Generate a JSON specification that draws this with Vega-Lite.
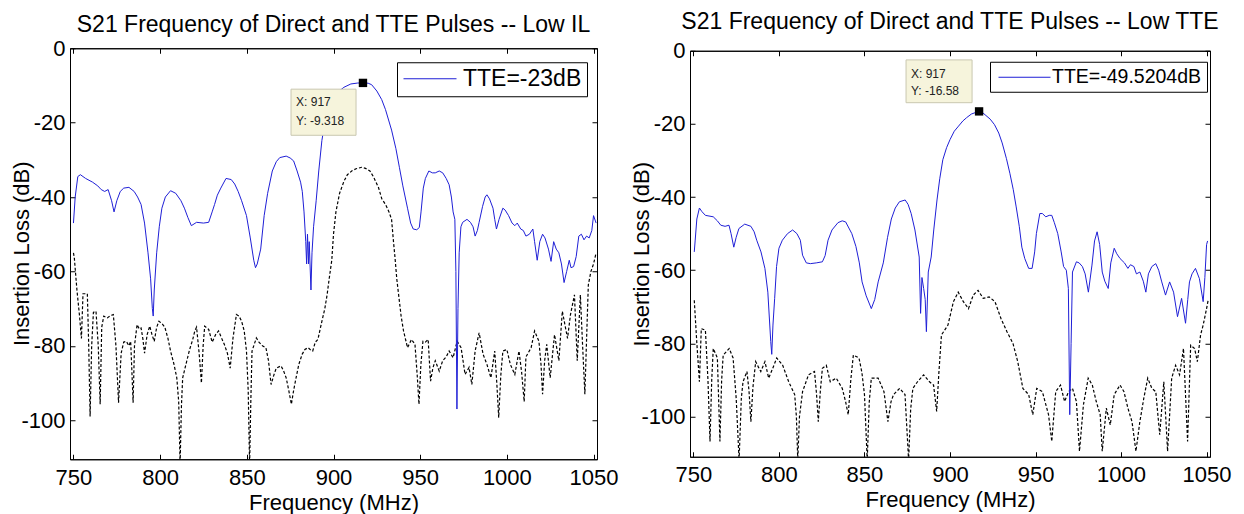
{
  "$schema": "https://vega.github.io/schema/vega-lite/v6.json",
  "padding": {"left": 9, "top": 10, "right": 0, "bottom": 0},
  "spacing": 10,
  "center": true,
  "config": {
    "font": "Liberation Sans",
    "view": {"stroke": "black", "strokeWidth": 1},
    "axis": {"grid": false, "minExtent": 0, "labelFontSize": 22, "titleFontSize": 22, "titleFontWeight": "normal", "labelColor": "black", "titleColor": "black", "domainColor": "black", "tickColor": "black", "tickSize": -5, "labelPadding": 10, "labelFlush": false, "labelOverlap": false, "labelExpr": "'' + datum.value"},
    "axisBottom": {"labelPadding": 13, "titlePadding": 4},
    "title": {"fontSize": 23, "fontWeight": "normal", "color": "black", "anchor": "middle"}
  },
  "resolve": {"scale": {"color": "independent"}, "legend": {"color": "independent"}},
  "datasets": {
    "LB": [
      {"f":750,"db":-47},{"f":751,"db":-40},{"f":752.5,"db":-34.5},{"f":754,"db":-34},{"f":757,"db":-35},{"f":761,"db":-36},{"f":764,"db":-37},{"f":766,"db":-38},{"f":768,"db":-38.5},{"f":770,"db":-38},{"f":772,"db":-41},{"f":773.4,"db":-44},{"f":775,"db":-41},{"f":777,"db":-38.5},{"f":779,"db":-37.6},{"f":782,"db":-37.4},{"f":785,"db":-38.5},{"f":787,"db":-40},{"f":789,"db":-42},{"f":791,"db":-47},{"f":793,"db":-55},{"f":794.5,"db":-62},{"f":795.5,"db":-70},{"f":796,"db":-72},{"f":796.6,"db":-65},{"f":798,"db":-55},{"f":799.5,"db":-48},{"f":801,"db":-43},{"f":803,"db":-40},{"f":806,"db":-38.3},{"f":809,"db":-39},{"f":812,"db":-41},{"f":814,"db":-43},{"f":816,"db":-45.5},{"f":818,"db":-47.7},{"f":821,"db":-46.8},{"f":825,"db":-47},{"f":828,"db":-46.8},{"f":830,"db":-44},{"f":831.4,"db":-42},{"f":833,"db":-39.5},{"f":835,"db":-37.6},{"f":838,"db":-35},{"f":841,"db":-35.3},{"f":843,"db":-36.5},{"f":845,"db":-38.5},{"f":847,"db":-41},{"f":849.8,"db":-45},{"f":852,"db":-51},{"f":854,"db":-57},{"f":855,"db":-59},{"f":856,"db":-58},{"f":858,"db":-54},{"f":860,"db":-45},{"f":862,"db":-39},{"f":864.7,"db":-33},{"f":867,"db":-30.5},{"f":869,"db":-29.4},{"f":872.7,"db":-29},{"f":875,"db":-29.5},{"f":877,"db":-30.3},{"f":879,"db":-33},{"f":881,"db":-36},{"f":882,"db":-38.5},{"f":883,"db":-44},{"f":884,"db":-52},{"f":884.5,"db":-58},{"f":885,"db":-50},{"f":885.6,"db":-58},{"f":886,"db":-52},{"f":887,"db":-65},{"f":887.6,"db":-55},{"f":888.5,"db":-48},{"f":890,"db":-41},{"f":891.5,"db":-33},{"f":893.3,"db":-24.8},{"f":895,"db":-20},{"f":896.8,"db":-16.5},{"f":899,"db":-14},{"f":902,"db":-12},{"f":906,"db":-10.5},{"f":910,"db":-9.6},{"f":914,"db":-9.35},{"f":917,"db":-9.318},{"f":920,"db":-9.4},{"f":922,"db":-9.8},{"f":925,"db":-11.5},{"f":927.8,"db":-13.8},{"f":930,"db":-16.5},{"f":933.5,"db":-22},{"f":936,"db":-27},{"f":938,"db":-32},{"f":940,"db":-37},{"f":942.7,"db":-43},{"f":944.5,"db":-47},{"f":946,"db":-48.6},{"f":948,"db":-48.8},{"f":949.5,"db":-48.2},{"f":950.5,"db":-44},{"f":951.8,"db":-37.6},{"f":953,"db":-35},{"f":955,"db":-33},{"f":957,"db":-33.5},{"f":958.7,"db":-33.5},{"f":961,"db":-33},{"f":963,"db":-33.5},{"f":965,"db":-35},{"f":966.7,"db":-36.7},{"f":968,"db":-40},{"f":969,"db":-44},{"f":970,"db":-46},{"f":970.6,"db":-60},{"f":971.2,"db":-97},{"f":971.8,"db":-70},{"f":972.5,"db":-55},{"f":973.5,"db":-48},{"f":974.5,"db":-46.8},{"f":977,"db":-46},{"f":979,"db":-46.8},{"f":980.5,"db":-48},{"f":981.7,"db":-50.5},{"f":983,"db":-49},{"f":984,"db":-46.8},{"f":986,"db":-42.5},{"f":987.5,"db":-40},{"f":988.5,"db":-39.4},{"f":990,"db":-40.5},{"f":992,"db":-43},{"f":993,"db":-46},{"f":994,"db":-48.6},{"f":995.5,"db":-46},{"f":997.7,"db":-43},{"f":999,"db":-43.5},{"f":1001,"db":-45},{"f":1003,"db":-47},{"f":1004.6,"db":-47.7},{"f":1006,"db":-47},{"f":1008,"db":-48.6},{"f":1009.5,"db":-49},{"f":1011,"db":-50.5},{"f":1013,"db":-50},{"f":1015,"db":-48.6},{"f":1016,"db":-52},{"f":1017.5,"db":-57},{"f":1019,"db":-52},{"f":1020.6,"db":-50},{"f":1022,"db":-51},{"f":1024,"db":-54},{"f":1025.5,"db":-57.3},{"f":1027,"db":-52},{"f":1028.5,"db":-54},{"f":1030,"db":-55},{"f":1031.5,"db":-58},{"f":1033,"db":-63},{"f":1034.5,"db":-60},{"f":1036,"db":-57},{"f":1037,"db":-59},{"f":1038.5,"db":-58.7},{"f":1040,"db":-56},{"f":1041.5,"db":-50.5},{"f":1043,"db":-50},{"f":1044.5,"db":-51.5},{"f":1046,"db":-50.5},{"f":1047.5,"db":-51},{"f":1049,"db":-49},{"f":1050,"db":-45},{"f":1051.5,"db":-47}
    ],
    "LD": [
      {"f":750,"db":-55},{"f":750.5,"db":-56.4},{"f":752,"db":-65},{"f":753.5,"db":-72},{"f":754.6,"db":-78},{"f":755.5,"db":-66},{"f":758,"db":-66},{"f":758.8,"db":-80},{"f":759.6,"db":-99},{"f":760.5,"db":-80},{"f":761.5,"db":-71},{"f":763,"db":-70.7},{"f":764.3,"db":-80},{"f":765.4,"db":-95.7},{"f":766.3,"db":-75},{"f":767.5,"db":-72},{"f":769.5,"db":-72.5},{"f":771,"db":-72},{"f":773,"db":-71.6},{"f":774.5,"db":-80},{"f":776,"db":-95.3},{"f":777.5,"db":-82},{"f":779,"db":-79},{"f":780.5,"db":-78.8},{"f":782,"db":-80},{"f":783,"db":-78.8},{"f":783.8,"db":-88},{"f":784.4,"db":-95.3},{"f":785.2,"db":-80},{"f":786.7,"db":-74.3},{"f":788,"db":-75.5},{"f":789,"db":-75.2},{"f":790,"db":-78},{"f":791,"db":-82},{"f":792.5,"db":-77},{"f":794,"db":-74.7},{"f":795.3,"db":-77},{"f":796.6,"db":-78.8},{"f":798,"db":-75},{"f":799.3,"db":-73.4},{"f":801,"db":-74},{"f":802.7,"db":-75},{"f":804.5,"db":-78},{"f":806,"db":-81.4},{"f":808,"db":-85},{"f":809.6,"db":-88.6},{"f":810.7,"db":-95},{"f":811.5,"db":-112},{"f":812.3,"db":-96},{"f":813,"db":-88.6},{"f":815.4,"db":-84},{"f":817,"db":-81},{"f":818.8,"db":-78.3},{"f":820,"db":-76},{"f":821,"db":-75},{"f":822.5,"db":-82},{"f":823.8,"db":-90},{"f":824.8,"db":-80},{"f":825.7,"db":-74.7},{"f":828,"db":-75.6},{"f":830,"db":-79},{"f":832,"db":-77},{"f":833.7,"db":-76},{"f":835.5,"db":-78},{"f":837,"db":-79.6},{"f":838.8,"db":-82},{"f":840.4,"db":-86},{"f":842,"db":-78},{"f":844,"db":-71.6},{"f":845.5,"db":-72},{"f":847,"db":-73.4},{"f":848.5,"db":-76},{"f":849.8,"db":-81.4},{"f":850.8,"db":-92},{"f":851.6,"db":-112},{"f":852.3,"db":-95},{"f":853,"db":-81.4},{"f":855.5,"db":-77.9},{"f":857,"db":-79},{"f":859,"db":-80},{"f":861,"db":-80.5},{"f":862.5,"db":-84},{"f":864,"db":-90.4},{"f":865.5,"db":-88},{"f":867,"db":-86},{"f":869.7,"db":-85.4},{"f":871,"db":-86.5},{"f":872.7,"db":-88.6},{"f":874.2,"db":-92},{"f":875.7,"db":-95.7},{"f":877,"db":-92},{"f":878.4,"db":-88.6},{"f":880,"db":-85},{"f":881.9,"db":-82.3},{"f":883.5,"db":-81},{"f":885.3,"db":-80.5},{"f":886.5,"db":-81},{"f":888,"db":-81.4},{"f":889.5,"db":-79},{"f":891,"db":-78.3},{"f":893.3,"db":-73.4},{"f":895,"db":-70},{"f":896.3,"db":-66.3},{"f":897.5,"db":-62},{"f":899,"db":-57},{"f":900,"db":-50},{"f":901.4,"db":-44},{"f":903.5,"db":-39},{"f":906,"db":-35.8},{"f":908,"db":-34},{"f":910.5,"db":-33},{"f":913,"db":-32.4},{"f":916.3,"db":-32},{"f":918.5,"db":-32.3},{"f":921,"db":-33},{"f":923,"db":-34.5},{"f":924.3,"db":-35.8},{"f":926,"db":-37.5},{"f":927.8,"db":-40.4},{"f":930,"db":-42},{"f":932,"db":-44},{"f":933.5,"db":-46},{"f":934.6,"db":-52},{"f":935.5,"db":-56.4},{"f":936.5,"db":-62},{"f":938,"db":-68},{"f":939,"db":-72},{"f":940.4,"db":-76},{"f":942.7,"db":-80.5},{"f":945,"db":-78.3},{"f":947,"db":-79.6},{"f":948.3,"db":-88},{"f":949.3,"db":-95.7},{"f":950.4,"db":-85},{"f":951.6,"db":-78.8},{"f":953,"db":-79},{"f":954.6,"db":-78.3},{"f":955.3,"db":-84},{"f":956,"db":-89.5},{"f":957.3,"db":-86},{"f":958.7,"db":-84},{"f":961,"db":-86.8},{"f":963,"db":-84},{"f":965,"db":-83},{"f":966.7,"db":-81.4},{"f":969,"db":-83.2},{"f":971.3,"db":-78.8},{"f":973.6,"db":-80.5},{"f":975.9,"db":-87.7},{"f":978.2,"db":-85.8},{"f":979.8,"db":-90.4},{"f":981.7,"db":-81.4},{"f":984,"db":-76.5},{"f":986.3,"db":-82.3},{"f":988.5,"db":-85},{"f":990.8,"db":-88.6},{"f":993,"db":-81.4},{"f":994.2,"db":-90},{"f":995.3,"db":-99.3},{"f":996.5,"db":-88},{"f":997.7,"db":-81.4},{"f":1000,"db":-81},{"f":1002,"db":-85},{"f":1004.6,"db":-87.7},{"f":1007,"db":-81.4},{"f":1008.5,"db":-87},{"f":1010,"db":-95},{"f":1011,"db":-83},{"f":1014,"db":-80.5},{"f":1016,"db":-76},{"f":1018.5,"db":-78.8},{"f":1019.7,"db":-85},{"f":1020.6,"db":-93},{"f":1021.8,"db":-84},{"f":1023,"db":-79.6},{"f":1025,"db":-88.6},{"f":1027.5,"db":-77},{"f":1030,"db":-84},{"f":1032,"db":-70.7},{"f":1035,"db":-78},{"f":1036.7,"db":-71.6},{"f":1039,"db":-66.3},{"f":1040.6,"db":-84},{"f":1042.4,"db":-66.3},{"f":1043.7,"db":-80},{"f":1045,"db":-93},{"f":1046,"db":-78},{"f":1047,"db":-63.6},{"f":1048.5,"db":-60},{"f":1050,"db":-58},{"f":1051.5,"db":-55}
    ],
    "RB": [
      {"f":750.5,"db":-55},{"f":751,"db":-52},{"f":752,"db":-46},{"f":753.5,"db":-43},{"f":755,"db":-44},{"f":757,"db":-45},{"f":761.6,"db":-45.4},{"f":764,"db":-46.5},{"f":766,"db":-47.7},{"f":768.5,"db":-48},{"f":770.8,"db":-47.7},{"f":772,"db":-50},{"f":773.6,"db":-53.7},{"f":775,"db":-51},{"f":776.6,"db":-48.6},{"f":780,"db":-47.4},{"f":783.6,"db":-48},{"f":785.5,"db":-49.5},{"f":787,"db":-51.8},{"f":789.5,"db":-55},{"f":791.8,"db":-59.5},{"f":793.5,"db":-66},{"f":795.2,"db":-79.5},{"f":795.8,"db":-83},{"f":796.5,"db":-75},{"f":797.5,"db":-67.7},{"f":798.6,"db":-59},{"f":800,"db":-54},{"f":802,"db":-51.8},{"f":805,"db":-50},{"f":808,"db":-49},{"f":810.5,"db":-50},{"f":812.5,"db":-51.8},{"f":813.8,"db":-55.9},{"f":816,"db":-58},{"f":818.4,"db":-58.2},{"f":821.8,"db":-58},{"f":825.4,"db":-57.7},{"f":827,"db":-56},{"f":828.7,"db":-51.8},{"f":831,"db":-49},{"f":834.5,"db":-47},{"f":837,"db":-46.5},{"f":839,"db":-46.8},{"f":842.6,"db":-50},{"f":845,"db":-53.5},{"f":847,"db":-58},{"f":848.6,"db":-63.2},{"f":851,"db":-67},{"f":854,"db":-70.5},{"f":856,"db":-68},{"f":858,"db":-63.2},{"f":861,"db":-58},{"f":863.5,"db":-51},{"f":865.7,"db":-46},{"f":868,"db":-43},{"f":870.4,"db":-41.3},{"f":873.8,"db":-40.8},{"f":875.5,"db":-42},{"f":877.3,"db":-44.5},{"f":879.5,"db":-49},{"f":882,"db":-56.4},{"f":882.8,"db":-71.8},{"f":883.6,"db":-62},{"f":884.6,"db":-65},{"f":885.5,"db":-68},{"f":886.2,"db":-76.8},{"f":887.3,"db":-60.5},{"f":889,"db":-56.4},{"f":890.5,"db":-49},{"f":892.4,"db":-40.8},{"f":894,"db":-35},{"f":895.8,"db":-29.8},{"f":898,"db":-26.5},{"f":900,"db":-24.3},{"f":902.5,"db":-22},{"f":905,"db":-20.6},{"f":907.5,"db":-19.2},{"f":909.7,"db":-18.3},{"f":912.5,"db":-17.3},{"f":915.5,"db":-16.8},{"f":917,"db":-16.58},{"f":919,"db":-16.9},{"f":921,"db":-17.7},{"f":923.5,"db":-18.7},{"f":926,"db":-20.2},{"f":928.5,"db":-22.5},{"f":930.5,"db":-25.2},{"f":933,"db":-29.5},{"f":935,"db":-33.5},{"f":937,"db":-38},{"f":938.7,"db":-42.7},{"f":940.5,"db":-48},{"f":942,"db":-53.7},{"f":943.7,"db":-56.8},{"f":946,"db":-59.5},{"f":948,"db":-59.5},{"f":949.5,"db":-55},{"f":950.5,"db":-50},{"f":952.5,"db":-44.5},{"f":954,"db":-44.5},{"f":956,"db":-45.4},{"f":958,"db":-45},{"f":959.5,"db":-45},{"f":961,"db":-47},{"f":963,"db":-50},{"f":965,"db":-55},{"f":966.4,"db":-59},{"f":968,"db":-60},{"f":969.2,"db":-65},{"f":970,"db":-99.5},{"f":970.8,"db":-80},{"f":971.6,"db":-60.5},{"f":973.9,"db":-57.7},{"f":975.5,"db":-58},{"f":977.4,"db":-59},{"f":979,"db":-61},{"f":980.9,"db":-66},{"f":983,"db":-58.6},{"f":984.5,"db":-52},{"f":986,"db":-49.5},{"f":987.5,"db":-53},{"f":989,"db":-60.5},{"f":990.5,"db":-63},{"f":992.5,"db":-65},{"f":994,"db":-58},{"f":996,"db":-54},{"f":997.5,"db":-55.5},{"f":999.4,"db":-56.8},{"f":1002,"db":-58},{"f":1004,"db":-59.5},{"f":1005.5,"db":-58.5},{"f":1007.5,"db":-59},{"f":1009,"db":-61},{"f":1011,"db":-60.5},{"f":1013,"db":-63},{"f":1014.5,"db":-66},{"f":1016,"db":-61},{"f":1018,"db":-59},{"f":1020.3,"db":-58.2},{"f":1022,"db":-60},{"f":1023.8,"db":-63.2},{"f":1026,"db":-66.8},{"f":1028.4,"db":-63.2},{"f":1030.7,"db":-66},{"f":1033,"db":-72.7},{"f":1035.4,"db":-67.7},{"f":1037.7,"db":-74.5},{"f":1039,"db":-68},{"f":1040,"db":-63.2},{"f":1041.5,"db":-61},{"f":1043.5,"db":-59.5},{"f":1045.8,"db":-62.3},{"f":1048,"db":-68.6},{"f":1049,"db":-62},{"f":1050,"db":-53},{"f":1050.6,"db":-52}
    ],
    "RD": [
      {"f":750.5,"db":-68.2},{"f":752,"db":-80},{"f":753.5,"db":-90.5},{"f":754.6,"db":-76},{"f":757,"db":-76.4},{"f":758.5,"db":-90},{"f":759.7,"db":-106.8},{"f":760.7,"db":-90},{"f":761.6,"db":-81.4},{"f":764,"db":-84},{"f":765.5,"db":-106.8},{"f":766.5,"db":-90},{"f":767.4,"db":-83.2},{"f":770.9,"db":-81.4},{"f":773.2,"db":-84},{"f":775,"db":-95},{"f":776.7,"db":-112},{"f":778,"db":-95},{"f":779,"db":-90.5},{"f":781.3,"db":-87.7},{"f":782.5,"db":-93},{"f":783.6,"db":-101.4},{"f":784.8,"db":-92},{"f":786.4,"db":-85},{"f":788,"db":-86.5},{"f":789.4,"db":-87.7},{"f":791.8,"db":-85},{"f":794,"db":-89.5},{"f":796.4,"db":-86.8},{"f":798.7,"db":-84},{"f":802.2,"db":-86},{"f":805.7,"db":-90.5},{"f":809.2,"db":-94},{"f":810.2,"db":-100},{"f":811,"db":-112},{"f":812,"db":-100},{"f":813.8,"db":-93.2},{"f":817.3,"db":-88.6},{"f":820.8,"db":-87.7},{"f":822,"db":-94},{"f":823,"db":-101.4},{"f":824.2,"db":-93},{"f":825.4,"db":-86.8},{"f":827.7,"db":-86},{"f":830,"db":-90.5},{"f":833.5,"db":-89.5},{"f":837,"db":-92.3},{"f":839,"db":-96},{"f":840.5,"db":-99.5},{"f":842,"db":-90},{"f":843.5,"db":-83.2},{"f":846.8,"db":-84},{"f":848.5,"db":-88},{"f":850,"db":-94},{"f":851.6,"db":-112},{"f":852.8,"db":-96},{"f":854,"db":-89.5},{"f":858,"db":-89.5},{"f":861.4,"db":-93.2},{"f":863.7,"db":-101.4},{"f":865.5,"db":-96},{"f":867,"db":-94},{"f":870.6,"db":-92.3},{"f":873.7,"db":-94},{"f":875.8,"db":-112},{"f":877,"db":-98},{"f":878.3,"db":-92.3},{"f":881,"db":-90.5},{"f":884.6,"db":-88.6},{"f":888,"db":-90.5},{"f":890.4,"db":-91.4},{"f":892.2,"db":-98.6},{"f":893.5,"db":-88},{"f":895,"db":-77.7},{"f":898.8,"db":-75},{"f":902,"db":-68.6},{"f":904.8,"db":-66},{"f":907.8,"db":-68.6},{"f":910.8,"db":-70.5},{"f":913.6,"db":-66.8},{"f":916.4,"db":-65.5},{"f":919.4,"db":-67.7},{"f":922.9,"db":-67.3},{"f":926.3,"db":-68.6},{"f":929.8,"db":-73.2},{"f":933.3,"db":-76.8},{"f":936.8,"db":-80},{"f":939.6,"db":-85},{"f":942.6,"db":-92.3},{"f":946,"db":-94},{"f":948.4,"db":-99.5},{"f":950.7,"db":-92.3},{"f":954,"db":-93.2},{"f":957.6,"db":-99.5},{"f":959.5,"db":-106.8},{"f":961.8,"db":-93.2},{"f":964.6,"db":-91.4},{"f":967,"db":-95.9},{"f":969.3,"db":-93.2},{"f":971.6,"db":-92.3},{"f":973.9,"db":-95.9},{"f":975.7,"db":-109.5},{"f":978,"db":-96.8},{"f":980.8,"db":-89.5},{"f":983.2,"db":-91.4},{"f":985.5,"db":-95.9},{"f":987.8,"db":-99.5},{"f":989,"db":-109.5},{"f":991.4,"db":-97.7},{"f":993.7,"db":-102.3},{"f":996,"db":-94},{"f":999.4,"db":-91.4},{"f":1001.7,"db":-93.2},{"f":1004,"db":-97.7},{"f":1006.4,"db":-101.4},{"f":1008.7,"db":-109.5},{"f":1011,"db":-101.4},{"f":1013.3,"db":-95},{"f":1015.6,"db":-89.5},{"f":1018,"db":-92.3},{"f":1020.3,"db":-93.2},{"f":1022.6,"db":-105},{"f":1025,"db":-90.5},{"f":1027.2,"db":-109.5},{"f":1029.6,"db":-89.5},{"f":1031.9,"db":-86},{"f":1034.2,"db":-88.6},{"f":1036.5,"db":-81.4},{"f":1038.9,"db":-106.8},{"f":1040.7,"db":-80.5},{"f":1043,"db":-81.4},{"f":1044.6,"db":-85},{"f":1046.5,"db":-77.7},{"f":1048,"db":-75},{"f":1050,"db":-70.5},{"f":1051,"db":-68}
    ]
  },
  "hconcat": [
    {
      "width": 527,
      "height": 411,
      "title": {"text": "S21 Frequency of Direct and TTE Pulses -- Low IL", "offset": 0.5},
      "resolve": {"axis": {"x": "independent", "y": "independent"}},
      "layer": [
        {
          "data": {"name": "LD"},
          "mark": {"type": "line", "stroke": "black", "strokeWidth": 1.2, "strokeDash": [3, 2], "clip": true},
          "encoding": {
            "x": {"field": "f", "type": "quantitative", "scale": {"domain": [748, 1052], "nice": false, "zero": false}, "axis": {"orient": "bottom", "values": [750, 800, 850, 900, 950, 1000, 1050], "title": "Frequency (MHz)"}},
            "y": {"field": "db", "type": "quantitative", "scale": {"domain": [-110.5, 0], "nice": false, "zero": false}, "axis": {"orient": "left", "values": [0, -20, -40, -60, -80, -100], "title": "Insertion Loss (dB)", "titleX": -49, "titleY": 205, "titleBaseline": "middle"}}
          }
        },
        {
          "data": {"name": "LB"},
          "mark": {"type": "line", "strokeWidth": 1, "clip": true},
          "encoding": {
            "x": {"field": "f", "type": "quantitative", "scale": {"domain": [748, 1052], "nice": false, "zero": false}, "axis": {"orient": "top", "values": [750, 800, 850, 900, 950, 1000, 1050], "labels": false, "title": null}},
            "y": {"field": "db", "type": "quantitative", "scale": {"domain": [-110.5, 0], "nice": false, "zero": false}, "axis": {"orient": "right", "values": [0, -20, -40, -60, -80, -100], "labels": false, "title": null}},
            "color": {"datum": "TTE=-23dB", "type": "nominal", "scale": {"range": ["#1f1fd6"]}, "legend": {"title": null, "orient": "none", "legendX": 327, "legendY": 14, "symbolType": "M-1,0L4.3,0", "symbolSize": 400, "symbolStrokeWidth": 1, "symbolStrokeColor": "#1f1fd6", "labelFontSize": 23, "labelColor": "black", "labelOffset": 38, "labelLimit": 400, "padding": 5, "strokeColor": "black", "fillColor": "white"}}
          }
        },
        {
          "data": {"values": [{}]},
          "mark": {"type": "rect", "fill": "#f6f4dc", "stroke": "#c9c7b0", "strokeWidth": 1},
          "encoding": {
            "x": {"datum": 875.5, "type": "quantitative", "axis": null},
            "x2": {"datum": 913},
            "y": {"datum": -11, "type": "quantitative", "axis": null},
            "y2": {"datum": -23.4}
          }
        },
        {
          "data": {"values": [{}]},
          "mark": {"type": "text", "align": "left", "baseline": "middle", "fontSize": 12, "color": "#222222"},
          "encoding": {
            "x": {"datum": 878.4, "type": "quantitative", "axis": null},
            "y": {"datum": -14.5, "type": "quantitative", "axis": null},
            "text": {"value": "X: 917"}
          }
        },
        {
          "data": {"values": [{}]},
          "mark": {"type": "text", "align": "left", "baseline": "middle", "fontSize": 12, "color": "#222222"},
          "encoding": {
            "x": {"datum": 878.4, "type": "quantitative", "axis": null},
            "y": {"datum": -19.6, "type": "quantitative", "axis": null},
            "text": {"value": "Y: -9.318"}
          }
        },
        {
          "data": {"values": [{}]},
          "mark": {"type": "square", "size": 70, "filled": true, "color": "black", "opacity": 1},
          "encoding": {
            "x": {"datum": 917, "type": "quantitative", "axis": null},
            "y": {"datum": -9.318, "type": "quantitative", "axis": null}
          }
        }
      ]
    },
    {
      "width": 520,
      "height": 406,
      "title": {"text": "S21 Frequency of Direct and TTE Pulses -- Low TTE", "offset": 6},
      "resolve": {"axis": {"x": "independent", "y": "independent"}},
      "layer": [
        {
          "data": {"name": "RD"},
          "mark": {"type": "line", "stroke": "black", "strokeWidth": 1.2, "strokeDash": [3, 2], "clip": true},
          "encoding": {
            "x": {"field": "f", "type": "quantitative", "scale": {"domain": [748, 1052], "nice": false, "zero": false}, "axis": {"orient": "bottom", "values": [750, 800, 850, 900, 950, 1000, 1050], "title": "Frequency (MHz)"}},
            "y": {"field": "db", "type": "quantitative", "scale": {"domain": [-111, 0], "nice": false, "zero": false}, "axis": {"orient": "left", "values": [0, -20, -40, -60, -80, -100], "title": "Insertion Loss (dB)", "titleX": -49, "titleY": 203, "titleBaseline": "middle"}}
          }
        },
        {
          "data": {"name": "RB"},
          "mark": {"type": "line", "strokeWidth": 1, "clip": true},
          "encoding": {
            "x": {"field": "f", "type": "quantitative", "scale": {"domain": [748, 1052], "nice": false, "zero": false}, "axis": {"orient": "top", "values": [750, 800, 850, 900, 950, 1000, 1050], "labels": false, "title": null}},
            "y": {"field": "db", "type": "quantitative", "scale": {"domain": [-111, 0], "nice": false, "zero": false}, "axis": {"orient": "right", "values": [0, -20, -40, -60, -80, -100], "labels": false, "title": null}},
            "color": {"datum": "TTE=-49.5204dB", "type": "nominal", "scale": {"range": ["#1f1fd6"]}, "legend": {"title": null, "orient": "none", "legendX": 300, "legendY": 11, "symbolType": "M-0.7,0L4.5,0", "symbolSize": 400, "symbolStrokeWidth": 1, "symbolStrokeColor": "#1f1fd6", "labelFontSize": 19.5, "labelColor": "black", "labelOffset": 36, "labelLimit": 400, "padding": 5, "strokeColor": "black", "fillColor": "white"}}
          }
        },
        {
          "data": {"values": [{}]},
          "mark": {"type": "rect", "fill": "#f6f4dc", "stroke": "#c9c7b0", "strokeWidth": 1},
          "encoding": {
            "x": {"datum": 874.3, "type": "quantitative", "axis": null},
            "x2": {"datum": 912.9},
            "y": {"datum": -2.5, "type": "quantitative", "axis": null},
            "y2": {"datum": -14.2}
          }
        },
        {
          "data": {"values": [{}]},
          "mark": {"type": "text", "align": "left", "baseline": "middle", "fontSize": 12, "color": "#222222"},
          "encoding": {
            "x": {"datum": 877.2, "type": "quantitative", "axis": null},
            "y": {"datum": -6.3, "type": "quantitative", "axis": null},
            "text": {"value": "X: 917"}
          }
        },
        {
          "data": {"values": [{}]},
          "mark": {"type": "text", "align": "left", "baseline": "middle", "fontSize": 12, "color": "#222222"},
          "encoding": {
            "x": {"datum": 877.2, "type": "quantitative", "axis": null},
            "y": {"datum": -11, "type": "quantitative", "axis": null},
            "text": {"value": "Y: -16.58"}
          }
        },
        {
          "data": {"values": [{}]},
          "mark": {"type": "square", "size": 70, "filled": true, "color": "black", "opacity": 1},
          "encoding": {
            "x": {"datum": 917, "type": "quantitative", "axis": null},
            "y": {"datum": -16.58, "type": "quantitative", "axis": null}
          }
        }
      ]
    }
  ]
}
